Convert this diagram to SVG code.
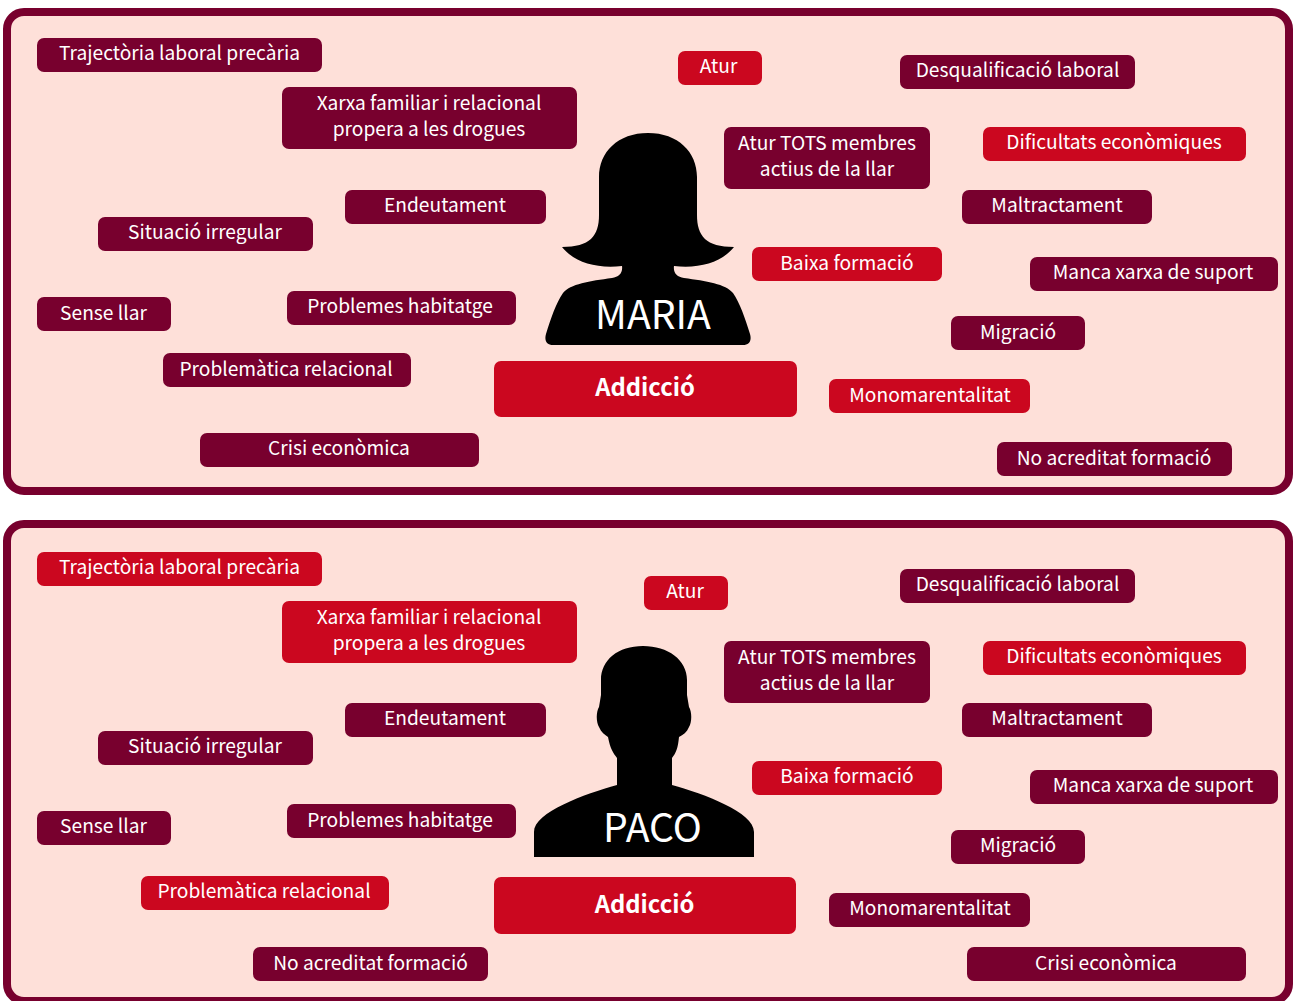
<svg xmlns="http://www.w3.org/2000/svg" width="1293" height="1001" viewBox="0 0 1293 1001">
<style>
.panel{fill:#fee0d9;stroke:#78002e;stroke-width:8}
.d{fill:#78002e}.r{fill:#cb071f}
text{font-family:"Noto Sans CJK SC","Noto Sans",sans-serif;fill:#fff;font-size:19.2px;text-anchor:middle;transform:translateY(.4px)}
.big{font-size:39.2px}.add{font-size:23.8px;font-weight:700}
</style>
<rect width="1293" height="1001" fill="#fff"/>
<g id="panel-maria"><rect class="panel" x="7" y="12" width="1282" height="479" rx="17"/></g>
<g id="panel-paco"><rect class="panel" x="7" y="524" width="1282" height="477" rx="17"/></g>
<g id="figure-maria"><path d="M648 133C618 133 599 152 599 177L599 215C599 236 590 247 562 247C574 262 596 269 622 266C623 273 619 277 612 278C590 281 570 284 563 293C556 303 551 318 546 334C544 341 547 345 553 345L743 345C749 345 752 341 750 334C745 318 740 303 733 293C726 284 706 281 684 278C677 277 673 273 674 266C700 269 722 262 734 247C706 247 697 236 697 215L697 177C697 152 678 133 648 133Z" fill="#000"/><text class="big" x="653" y="329">MARIA</text></g>
<g id="figure-paco"><path d="M643 646C618 646 601 660 601 680L601 695L599 707C596 712 596 722 599 727C601 732 605 735 608 737C610 748 613 753 617 758L617 785C585 794 534 812 534 832L534 857L754 857L754 832C754 812 704 794 672 785L672 758C676 753 678 748 679 737C683 735 687 732 689 727C692 722 692 712 689 707L687 695L687 680C687 660 668 646 643 646Z" fill="#000"/><text class="big" x="652.5" y="842">PACO</text></g>
<g id="connectors"></g>
<g id="n1"><rect class="d" x="37" y="38" width="285" height="34" rx="7"/><text x="179.5" y="60">Trajectòria laboral precària</text></g>
<g id="n2"><rect class="d" x="282" y="87" width="295" height="62" rx="7"/><text x="429" y="110">Xarxa familiar i relacional<tspan x="429" dy="26">propera a les drogues</tspan></text></g>
<g id="n3"><rect class="r" x="678" y="51" width="84" height="34" rx="7"/><text x="718.5" y="73">Atur</text></g>
<g id="n4"><rect class="d" x="900" y="55" width="235" height="34" rx="7"/><text x="1017.5" y="77">Desqualificació laboral</text></g>
<g id="n5"><rect class="d" x="724" y="127" width="206" height="62" rx="7"/><text x="827" y="150">Atur TOTS membres<tspan x="827" dy="26">actius de la llar</tspan></text></g>
<g id="n6"><rect class="r" x="983" y="127" width="263" height="34" rx="7"/><text x="1114" y="149">Dificultats econòmiques</text></g>
<g id="n7"><rect class="d" x="345" y="190" width="201" height="34" rx="7"/><text x="445" y="212">Endeutament</text></g>
<g id="n8"><rect class="d" x="962" y="190" width="190" height="34" rx="7"/><text x="1057" y="212">Maltractament</text></g>
<g id="n9"><rect class="d" x="98" y="217" width="215" height="34" rx="7"/><text x="205" y="239">Situació irregular</text></g>
<g id="n10"><rect class="r" x="752" y="247" width="190" height="34" rx="7"/><text x="847" y="270">Baixa formació</text></g>
<g id="n11"><rect class="d" x="1030" y="257" width="248" height="34" rx="7"/><text x="1153" y="279">Manca xarxa de suport</text></g>
<g id="n12"><rect class="d" x="37" y="297" width="134" height="34" rx="7"/><text x="103.5" y="320">Sense llar</text></g>
<g id="n13"><rect class="d" x="287" y="291" width="229" height="34" rx="7"/><text x="400" y="313">Problemes habitatge</text></g>
<g id="n14"><rect class="d" x="951" y="316" width="134" height="34" rx="7"/><text x="1018" y="339">Migració</text></g>
<g id="n15"><rect class="d" x="163" y="353" width="248" height="34" rx="7"/><text x="286" y="376">Problemàtica relacional</text></g>
<g id="n16"><rect class="r" x="494" y="361" width="303" height="56" rx="7"/><text class="add" x="645" y="396">Addicció</text></g>
<g id="n17"><rect class="r" x="829" y="379" width="201" height="34" rx="7"/><text x="930" y="402">Monomarentalitat</text></g>
<g id="n18"><rect class="d" x="200" y="433" width="279" height="34" rx="7"/><text x="339" y="455">Crisi econòmica</text></g>
<g id="n19"><rect class="d" x="997" y="442" width="235" height="34" rx="7"/><text x="1114" y="465">No acreditat formació</text></g>
<g id="p1"><rect class="r" x="37" y="552" width="285" height="34" rx="7"/><text x="179.5" y="574">Trajectòria laboral precària</text></g>
<g id="p2"><rect class="r" x="282" y="601" width="295" height="62" rx="7"/><text x="429" y="624">Xarxa familiar i relacional<tspan x="429" dy="26">propera a les drogues</tspan></text></g>
<g id="p3"><rect class="r" x="644" y="576" width="84" height="34" rx="7"/><text x="685" y="598">Atur</text></g>
<g id="p4"><rect class="d" x="900" y="569" width="235" height="34" rx="7"/><text x="1017.5" y="591">Desqualificació laboral</text></g>
<g id="p5"><rect class="d" x="724" y="641" width="206" height="62" rx="7"/><text x="827" y="664">Atur TOTS membres<tspan x="827" dy="26">actius de la llar</tspan></text></g>
<g id="p6"><rect class="r" x="983" y="641" width="263" height="34" rx="7"/><text x="1114" y="663">Dificultats econòmiques</text></g>
<g id="p7"><rect class="d" x="345" y="703" width="201" height="34" rx="7"/><text x="445" y="725">Endeutament</text></g>
<g id="p8"><rect class="d" x="962" y="703" width="190" height="34" rx="7"/><text x="1057" y="725">Maltractament</text></g>
<g id="p9"><rect class="d" x="98" y="731" width="215" height="34" rx="7"/><text x="205" y="753">Situació irregular</text></g>
<g id="p10"><rect class="r" x="752" y="761" width="190" height="34" rx="7"/><text x="847" y="783">Baixa formació</text></g>
<g id="p11"><rect class="d" x="1030" y="770" width="248" height="34" rx="7"/><text x="1153" y="792">Manca xarxa de suport</text></g>
<g id="p12"><rect class="d" x="37" y="811" width="134" height="34" rx="7"/><text x="103.5" y="833">Sense llar</text></g>
<g id="p13"><rect class="d" x="287" y="804" width="229" height="34" rx="7"/><text x="400" y="827">Problemes habitatge</text></g>
<g id="p14"><rect class="d" x="951" y="830" width="134" height="34" rx="7"/><text x="1018" y="852">Migració</text></g>
<g id="p15"><rect class="r" x="141" y="876" width="248" height="34" rx="7"/><text x="264" y="898">Problemàtica relacional</text></g>
<g id="p16"><rect class="r" x="494" y="877" width="302" height="57" rx="7"/><text class="add" x="644.5" y="913">Addicció</text></g>
<g id="p17"><rect class="d" x="829" y="893" width="201" height="34" rx="7"/><text x="930" y="915">Monomarentalitat</text></g>
<g id="p18"><rect class="d" x="253" y="947" width="235" height="34" rx="7"/><text x="370.5" y="970">No acreditat formació</text></g>
<g id="p19"><rect class="d" x="967" y="947" width="279" height="34" rx="7"/><text x="1106" y="970">Crisi econòmica</text></g>
</svg>
